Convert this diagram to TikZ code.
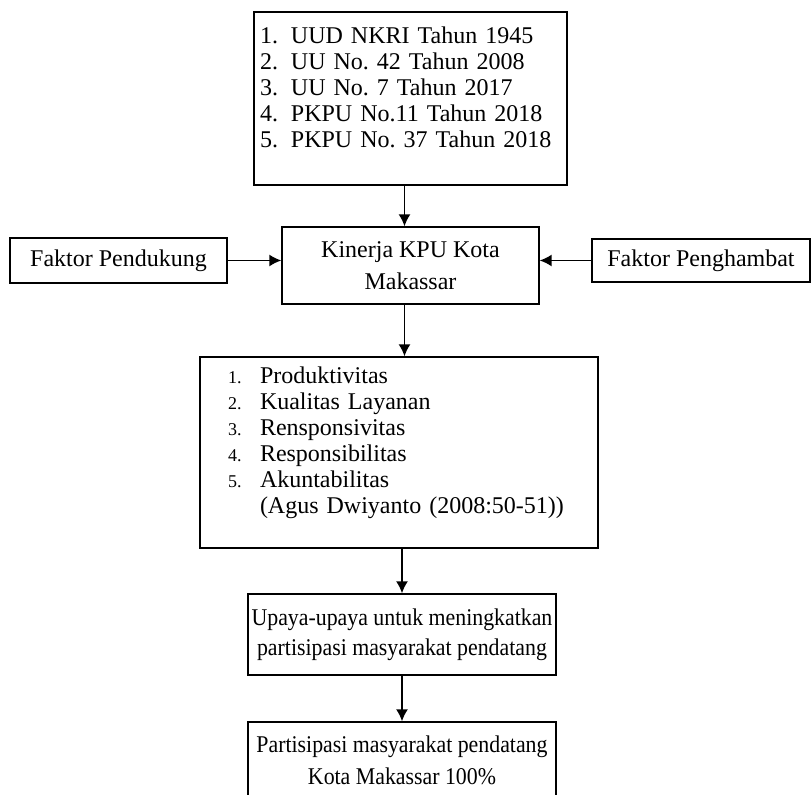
\documentclass[tikz,border=0pt]{standalone}
\usepackage{fontspec}
\setmainfont{Liberation Serif}
\newfontfamily\sempit{Liberation Serif}[FakeStretch=0.91]
\usepackage{tikz}
\usetikzlibrary{calc, arrows.meta}
\frenchspacing
\tikzset{>={Latex[length=6pt,width=6pt]}}
\tikzset{kotak/.style={draw, line width=0.65pt, inner sep=0pt, align=center}}
\tikzset{panah/.style={->, line width=0.85pt}}

\begin{document}
\begin{tikzpicture}[x=0.5pt, y=-0.5pt]
\useasboundingbox (0,0) rectangle (811,795);
\clip (0,0) rectangle (811,795);

\node[kotak, minimum width=156.5pt, minimum height=86.5pt, text width=156.5pt, align=left, font=\fontsize{12}{13}\selectfont] (dasar) at (410.5,98.5)
{\hspace*{3pt}\begin{tabular}{@{}p{15.5pt}@{}l@{}}
1. & UUD NKRI Tahun 1945\\
2. & UU No. 42 Tahun 2008\\
3. & UU No. 7 Tahun 2017\\
4. & PKPU No.11 Tahun 2018\\
5. & PKPU No. 37 Tahun 2018\\[8pt]
\end{tabular}};

\node[kotak, minimum width=128.5pt, minimum height=38.5pt, font=\fontsize{12}{16}\selectfont] (kinerja) at (410.5,265.5) {Kinerja KPU Kota\\Makassar};
\node[kotak, minimum width=108.5pt, minimum height=22.5pt, font=\fontsize{12}{13}\selectfont] (pendukung) at (118.5,260.5) {Faktor Pendukung};
\node[kotak, minimum width=109pt, minimum height=21.5pt, font=\fontsize{12}{13}\selectfont] (penghambat) at (701,260.5) {Faktor Penghambat};

\node[kotak, minimum width=199pt, minimum height=95.5pt, text width=199pt, align=left, font=\fontsize{12}{13}\selectfont] (indikator) at (399,452.5)
{\hspace*{14pt}\begin{tabular}{@{}p{16pt}@{}l@{}}
{\small 1.} & Produktivitas\\
{\small 2.} & Kualitas Layanan\\
{\small 3.} & Rensponsivitas\\
{\small 4.} & Responsibilitas\\
{\small 5.} & Akuntabilitas\\
 & (Agus Dwiyanto (2008:50-51))\\[9.5pt]
\end{tabular}};

\node[kotak, minimum width=154pt, minimum height=40.5pt, font=\sempit\fontsize{12}{15}\selectfont] (upaya) at (402,634.5) {Upaya-upaya untuk meningkatkan\\partisipasi masyarakat pendatang};
\node[kotak, minimum width=154pt, minimum height=38pt, font=\sempit\fontsize{12}{16}\selectfont] (hasil) at (402,760) {Partisipasi masyarakat pendatang\\Kota Makassar 100\%};

\draw[panah] ([xshift=-3pt]dasar.south) -- ([xshift=-3pt]kinerja.north);
\draw[panah] (pendukung.east) -- (pendukung.east -| kinerja.west);
\draw[panah] (penghambat.west) -- (penghambat.west -| kinerja.east);
\draw[panah] ([xshift=-3pt]kinerja.south) -- ([xshift=-3pt]kinerja.south |- indikator.north);
\draw[panah] (indikator.south -| upaya.north) -- (upaya.north);
\draw[panah] (upaya.south) -- (hasil.north);

\end{tikzpicture}
\end{document}
